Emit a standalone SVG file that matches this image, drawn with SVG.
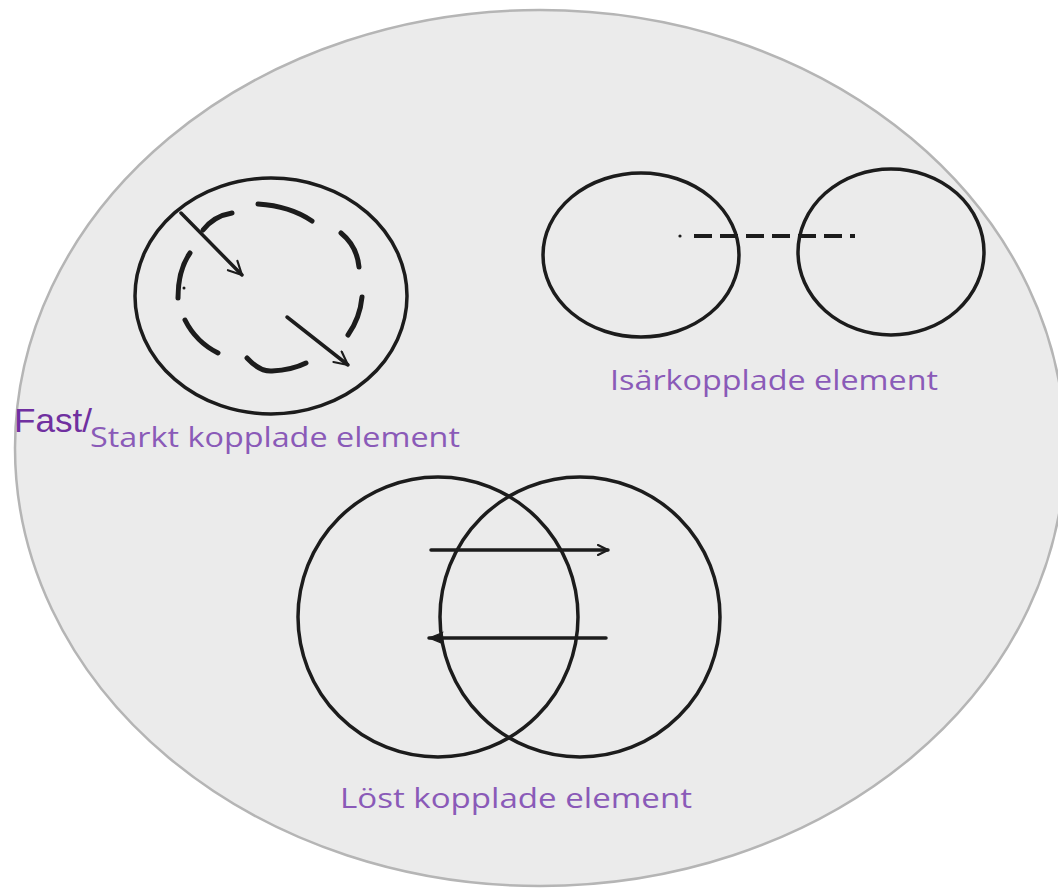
<svg xmlns="http://www.w3.org/2000/svg" width="1058" height="890" viewBox="0 0 1058 890">
<style>
.ink{fill:none;stroke:#1c1c1c;stroke-width:3.5;stroke-linecap:round;stroke-linejoin:round}
.dash{fill:none;stroke:#1c1c1c;stroke-width:5;stroke-linecap:round}
.hand{font-family:"Open Sans","DejaVu Sans",sans-serif;font-size:27px;fill:#8a5ab8}
.fast{font-family:"Liberation Sans","Carlito",sans-serif;font-size:34px;fill:#7030a0}
</style>
<defs>
<marker id="vee" viewBox="0 0 12 12" refX="11" refY="6" markerWidth="12" markerHeight="12" markerUnits="userSpaceOnUse" orient="auto">
<path d="M1 1 L11 6 L1 11" fill="none" stroke="#1c1c1c" stroke-width="2.2" stroke-linecap="round" stroke-linejoin="round"/>
</marker>
<marker id="vee2" viewBox="0 0 12 12" refX="11" refY="6" markerWidth="16" markerHeight="16" markerUnits="userSpaceOnUse" orient="auto">
<path d="M1 1 L11 6 L1 11" fill="none" stroke="#1c1c1c" stroke-width="1.6" stroke-linecap="round" stroke-linejoin="round"/>
</marker>
<marker id="tri" viewBox="0 0 12 12" refX="11" refY="6" markerWidth="16" markerHeight="16" markerUnits="userSpaceOnUse" orient="auto">
<path d="M1 2 L11 6 L1 10 L3 6 Z" fill="#1c1c1c" stroke="#1c1c1c" stroke-width="1"/>
</marker>
</defs>
<rect width="1058" height="890" fill="#ffffff"/>
<g id="background">
<ellipse cx="540" cy="448" rx="525" ry="438" fill="#ebebeb" stroke="#b5b5b5" stroke-width="2.5"/>
</g>
<g id="strong">
<ellipse class="ink" cx="271" cy="296" rx="136" ry="118"/>
<path class="dash" d="M258 204 Q 290 206 312 221"/>
<path class="dash" d="M203 230 Q 214 216 232 213"/>
<path class="dash" d="M190 253 Q 178 270 178 298"/>
<circle cx="184" cy="288" r="1.5" fill="#1c1c1c"/>
<path class="dash" d="M185 320 Q 196 342 218 353"/>
<path class="dash" d="M247 358 Q 260 372 272 371 Q 292 370 306 363"/>
<path class="dash" d="M341 233 Q 357 246 359 267"/>
<path class="dash" d="M362 297 Q 360 318 348 335"/>
<line class="ink" x1="181" y1="213" x2="242" y2="275" stroke-width="2.5" marker-end="url(#vee2)"/>
<line class="ink" x1="287" y1="317" x2="348" y2="365" stroke-width="2.5" marker-end="url(#vee2)"/>
<text class="fast" x="14" y="432" textLength="78" lengthAdjust="spacingAndGlyphs">Fast/</text>
<text class="hand" x="90" y="447" textLength="370" lengthAdjust="spacingAndGlyphs">Starkt kopplade element</text>
</g>
<g id="decoupled">
<ellipse class="ink" cx="641" cy="255" rx="98" ry="82"/>
<ellipse class="ink" cx="891" cy="252" rx="93" ry="83"/>
<text class="hand" x="610" y="390" textLength="328" lengthAdjust="spacingAndGlyphs">Isärkopplade element</text>
</g>
<g id="loose">
<circle class="ink" cx="438" cy="617" r="140"/>
<circle class="ink" cx="580" cy="617" r="140"/>
<text class="hand" x="340" y="808" textLength="352" lengthAdjust="spacingAndGlyphs">Löst kopplade element</text>
</g>
<g id="connectors">
<circle cx="680" cy="236" r="1.6" fill="#1c1c1c"/>
<line x1="694" y1="236" x2="855" y2="236" stroke="#1c1c1c" stroke-width="4" stroke-dasharray="18 8"/>
<line class="ink" x1="431" y1="550" x2="608" y2="550" stroke-width="3.5" marker-end="url(#vee)"/>
<line class="ink" x1="606" y1="638" x2="429" y2="638" stroke-width="3.5" marker-end="url(#tri)"/>
</g>
</svg>
